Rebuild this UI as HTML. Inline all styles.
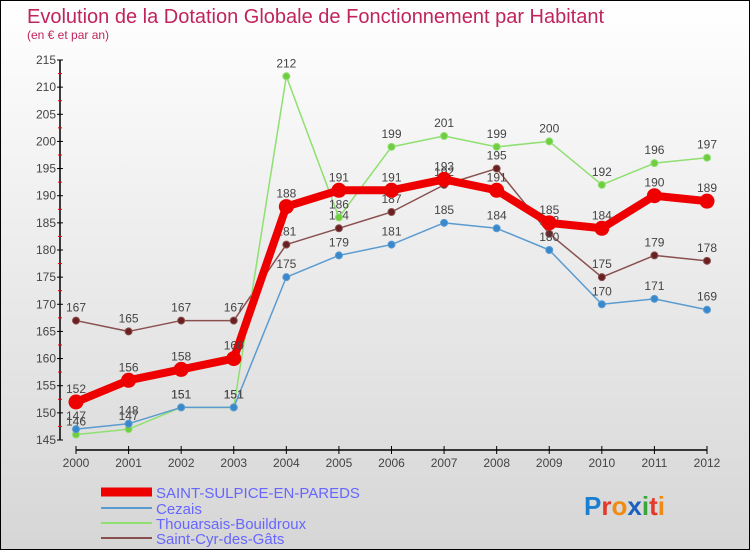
<!DOCTYPE html>
<html><head><meta charset="utf-8"><style>
html,body{margin:0;padding:0}
body{width:750px;height:550px;overflow:hidden;font-family:"Liberation Sans",sans-serif}
#wrap{position:relative;width:748px;height:548px;border:1px solid #000;background:linear-gradient(#ffffff,#d6d6d6)}
</style></head><body>
<div id="wrap">
<svg id="chart" width="748" height="548" style="position:absolute;left:0;top:0">
<text x="26" y="22" font-size="20" fill="#c0245c">Evolution de la Dotation Globale de Fonctionnement par Habitant</text>
<text x="26" y="38" font-size="12" fill="#c0245c">(en € et par an)</text>
<g id="axes"></g><g id="series"></g>
<g>
<line x1="100" y1="491" x2="151" y2="491" stroke="#ee0000" stroke-width="9"/>
<text x="155" y="497" font-size="15" fill="#6666ff">SAINT-SULPICE-EN-PAREDS</text>
<line x1="100" y1="507" x2="151" y2="507" stroke="#5a9bd0" stroke-width="2"/>
<text x="155" y="513" font-size="15" fill="#6666ff">Cezais</text>
<line x1="100" y1="522" x2="151" y2="522" stroke="#8fe070" stroke-width="2"/>
<text x="155" y="528" font-size="15" fill="#6666ff">Thouarsais-Bouildroux</text>
<line x1="100" y1="537" x2="151" y2="537" stroke="#8a5050" stroke-width="2"/>
<text x="155" y="543" font-size="15" fill="#6666ff">Saint-Cyr-des-Gâts</text>
</g>
<text x="583" y="514" font-size="26" font-weight="bold"><tspan fill="#1a7fd0">P</tspan><tspan fill="#e23a2a">r</tspan><tspan fill="#f08a10">o</tspan><tspan fill="#1a60c0">x</tspan><tspan fill="#38a838">i</tspan><tspan fill="#e23a2a">t</tspan><tspan fill="#f08a10">i</tspan></text>
</svg>
</div>
<script>
const years=[2000,2001,2002,2003,2004,2005,2006,2007,2008,2009,2010,2011,2012];
const yTicks=[145,150,155,160,165,170,175,180,185,190,195,200,205,210,215];
const ssp=[152,156,158,160,188,191,191,193,191,185,184,190,189];
const cezais=[147,148,151,151,175,179,181,185,184,180,170,171,169];
const thouarsais=[146,147,151,151,212,186,199,201,199,200,192,196,197];
const saintCyr=[167,165,167,167,181,184,187,192,195,183,175,179,178];
const NS="http://www.w3.org/2000/svg";
const x=i=>75+i*(706-75)/(years.length-1);
const y=v=>439-(v-145)*(380/70);
function mk(t,a,p){const e=document.createElementNS(NS,t);for(const k in a)e.setAttribute(k,a[k]);p.appendChild(e);return e;}
const ax=document.getElementById('axes');
let l=mk('line',{x1:59,y1:y(215),x2:59,y2:y(145),stroke:'#000','stroke-width':1.5},ax);


yTicks.forEach(v=>{
 mk('line',{x1:56,y1:y(v),x2:62,y2:y(v),stroke:'#000'},ax);
 if(v<215) mk('line',{x1:57,y1:y(v+2.5),x2:61,y2:y(v+2.5),stroke:'#e00'},ax);
 const t=mk('text',{x:55,y:y(v)+4,'text-anchor':'end','font-size':12,fill:'#444'},ax);t.textContent=v;
 
 
});
l=mk('line',{x1:75,y1:449,x2:706,y2:449,stroke:'#000','stroke-width':1.5},ax);


years.forEach((yr,i)=>{
 mk('line',{x1:x(i),y1:445,x2:x(i),y2:453,stroke:'#000'},ax);
 const t=mk('text',{x:x(i),y:466,'text-anchor':'middle','font-size':12,fill:'#444'},ax);t.textContent=yr;
 
 
});
const sg=document.getElementById('series');
function draw(data,color,w,r,name,dot){
 const g=mk('g',{},sg);
 
 
 const p=mk('polyline',{points:data.map((v,i)=>x(i)+','+y(v)).join(' '),fill:'none',stroke:color,'stroke-width':w,'stroke-linejoin':'round'},g);
 
 
 data.forEach((v,i)=>{
  const c=mk('circle',{cx:x(i),cy:y(v),r:r,fill:dot,stroke:color,'stroke-width':1},g);
  
  
  const t=mk('text',{x:x(i),y:y(v)-9,'text-anchor':'middle','font-size':12,fill:'#444'},g);t.textContent=v;
  
  
 });
}
draw(saintCyr,'#8a5050',1.5,3.5,'series-saint-cyr','#6a2020');
draw(thouarsais,'#8fe070',1.5,3.5,'series-thouarsais','#70cc40');
draw(cezais,'#5a9bd0',1.5,3.5,'series-cezais','#3a88cc');
draw(ssp,'#ee0000',8,7,'series-saint-sulpice','#ee0000');
</script>
</body></html>
